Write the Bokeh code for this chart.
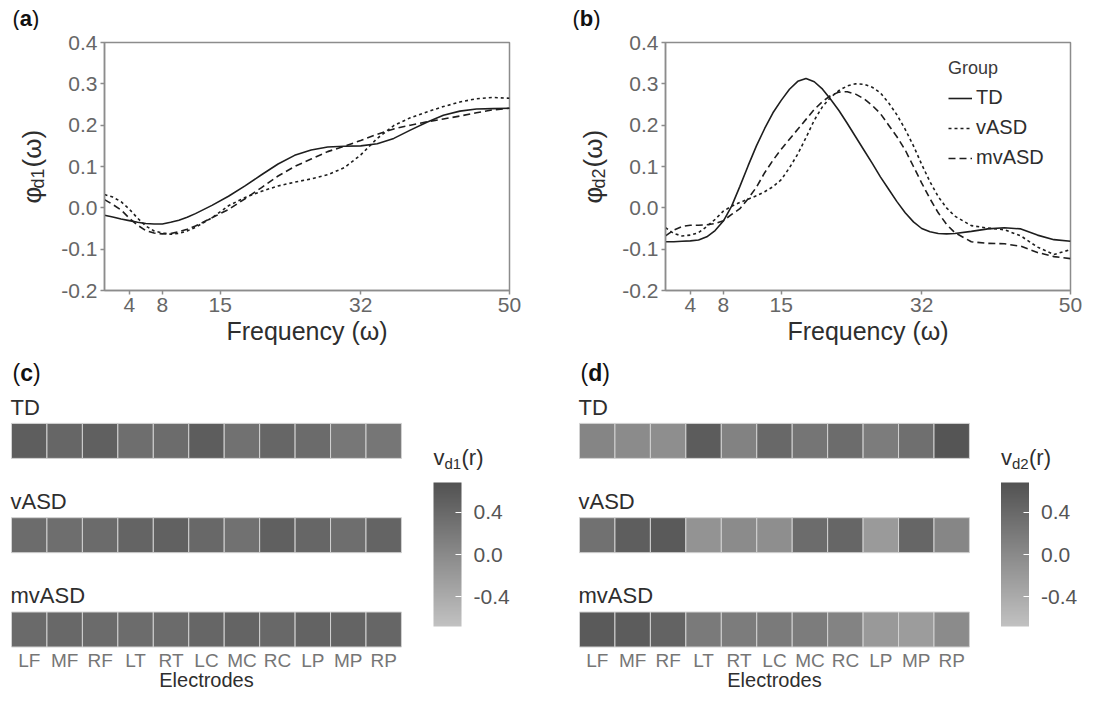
import math
from bokeh.plotting import figure
from bokeh.layouts import column, row
from bokeh.models import (Range1d, FixedTicker, NumeralTickFormatter, Label, Legend,
                          LegendItem, ColorBar, LinearColorMapper, ColumnDataSource)
from bokeh.core.properties import value
from bokeh.embed import file_html
from bokeh.resources import INLINE

# ---------------- data ----------------
freq_a = [1, 2, 3, 4, 5, 6, 7, 8, 9, 10, 11, 12, 14, 16, 18, 20, 22, 24, 26, 28, 30,
          32, 34, 36, 38, 40, 42, 44, 46, 48, 50]
td_a = [-0.018, -0.022, -0.027, -0.031, -0.035, -0.038, -0.039, -0.039, -0.035, -0.030,
        -0.023, -0.014, 0.006, 0.028, 0.053, 0.080, 0.106, 0.127, 0.140, 0.147, 0.149,
        0.150, 0.155, 0.168, 0.188, 0.207, 0.224, 0.234, 0.239, 0.240, 0.241]
vasd_a = [0.032, 0.026, 0.015, -0.003, -0.025, -0.044, -0.056, -0.061, -0.064, -0.062,
          -0.056, -0.047, -0.024, 0.005, 0.025, 0.040, 0.053, 0.062, 0.070, 0.080, 0.097,
          0.128, 0.168, 0.199, 0.218, 0.232, 0.245, 0.256, 0.264, 0.267, 0.265]
mvasd_a = [0.020, 0.008, -0.005, -0.025, -0.042, -0.055, -0.061, -0.063, -0.062, -0.058,
           -0.052, -0.044, -0.024, -0.004, 0.022, 0.049, 0.077, 0.100, 0.118, 0.136, 0.149,
           0.163, 0.178, 0.191, 0.200, 0.208, 0.215, 0.222, 0.230, 0.237, 0.241]

freq_b = [1, 2, 3, 4, 5, 6, 7, 8, 9, 10, 11, 12, 13, 14, 15, 16, 17, 18, 19, 20, 21, 22,
          23, 24, 25, 26, 27, 28, 29, 30, 31, 32, 33, 34, 35, 36, 38, 40, 42, 44, 46, 48, 50]
td_b = [-0.082, -0.082, -0.081, -0.080, -0.078, -0.070, -0.055, -0.032, 0.004, 0.052,
        0.102, 0.150, 0.192, 0.230, 0.260, 0.287, 0.306, 0.313, 0.305, 0.287, 0.262,
        0.235, 0.204, 0.172, 0.140, 0.108, 0.075, 0.045, 0.015, -0.012, -0.034, -0.050,
        -0.058, -0.062, -0.063, -0.062, -0.057, -0.051, -0.048, -0.051, -0.066, -0.077,
        -0.081]
vasd_b = [-0.048, -0.062, -0.068, -0.066, -0.060, -0.045, -0.028, -0.008, 0.004, 0.013,
          0.021, 0.029, 0.039, 0.051, 0.068, 0.097, 0.130, 0.170, 0.212, 0.245, 0.268,
          0.284, 0.295, 0.300, 0.299, 0.292, 0.278, 0.254, 0.225, 0.190, 0.150, 0.105,
          0.063, 0.027, 0.000, -0.020, -0.043, -0.049, -0.053, -0.068, -0.095, -0.113,
          -0.101]
mvasd_b = [-0.068, -0.054, -0.045, -0.042, -0.042, -0.041, -0.038, -0.031, -0.016, -0.002,
           0.022, 0.050, 0.085, 0.115, 0.142, 0.166, 0.190, 0.214, 0.238, 0.257, 0.272,
           0.280, 0.281, 0.275, 0.264, 0.248, 0.228, 0.200, 0.172, 0.140, 0.100, 0.060,
           0.022, -0.012, -0.040, -0.060, -0.082, -0.086, -0.087, -0.093, -0.108, -0.118,
           -0.123]

freq_ticks = [4, 8, 15, 32, 50]
phi_ticks = [-0.2, -0.1, 0.0, 0.1, 0.2, 0.3, 0.4]

groups = ["TD", "vASD", "mvASD"]
electrodes = ["LF", "MF", "RF", "LT", "RT", "LC", "MC", "RC", "LP", "MP", "RP"]
vd1_TD = [0.53, 0.44, 0.50, 0.34, 0.36, 0.55, 0.30, 0.44, 0.38, 0.23, 0.24]
vd1_vASD = [0.36, 0.34, 0.38, 0.46, 0.49, 0.41, 0.30, 0.51, 0.44, 0.34, 0.46]
vd1_mvASD = [0.39, 0.41, 0.38, 0.36, 0.37, 0.44, 0.46, 0.41, 0.47, 0.46, 0.44]
vd2_TD = [0.06, -0.01, -0.05, 0.56, 0.10, 0.41, 0.25, 0.36, 0.17, 0.33, 0.64]
vd2_vASD = [0.30, 0.53, 0.58, -0.11, -0.01, -0.05, 0.36, 0.44, -0.19, 0.44, 0.05]
vd2_mvASD = [0.58, 0.56, 0.47, 0.19, 0.17, 0.19, 0.17, 0.085, -0.18, -0.22, -0.01]
cbar_ticks = [-0.4, 0.0, 0.4]
cbar_low, cbar_high = -0.68, 0.68

# ---------------- styles / layout ----------------
FONT = "Liberation Sans"
DARK = "#2e2e2e"
TICK = "#666666"
FRAME = "#8c8c8c"
LINE = "#1e1e1e"
TOP_H = 30        # strip holding the (a) (b) letters
ROW1_H = 325      # line charts
ROW2_H = 335      # heat maps
B_TOP = 12        # frame top inside row 1
B_BOT = ROW1_H - B_TOP - 248


def lab(p, text, x, y, size, color=DARK, style="normal", angle=0.0,
        align="left", baseline="middle", x_units="screen", y_units="screen"):
    p.add_layout(Label(x=x, y=y, x_units=x_units, y_units=y_units, text=text,
                       text_font=FONT, text_font_size=f"{size}px",
                       text_color=color, text_font_style=style, angle=angle,
                       text_align=align, text_baseline=baseline))


def panel_letter(p, letter, x, y, letter_w, size=23):
    lab(p, "(", x, y, size, color="#111111")
    lab(p, letter, x + 0.333 * size, y, size, color="#111111", style="bold")
    lab(p, ")", x + 0.333 * size + letter_w, y, size, color="#111111")


def blank(width, height, top=0, bottom=0):
    p = figure(width=width, height=height, x_range=Range1d(0, width),
               y_range=Range1d(0, height - top - bottom), output_backend="svg",
               toolbar_location=None, x_axis_location=None, y_axis_location=None,
               min_border_left=0, min_border_right=0, min_border_top=top,
               min_border_bottom=bottom)
    p.grid.visible = False
    p.outline_line_color = None
    return p


def side_panel(width, ylab_x, sub):
    """Strip left of a line chart holding the y-axis title phi_d(omega)."""
    p = blank(width, ROW1_H, B_TOP, B_BOT)
    a = math.pi / 2
    y0 = 123 - 36
    lab(p, "φ", ylab_x, y0, 26, angle=a)
    lab(p, sub, ylab_x + 6, y0 + 15, 18, angle=a)
    lab(p, "(ω)", ylab_x, y0 + 36, 26, angle=a)
    return p


def line_panel(width, left, right, freq, td, vasd, mvasd, legend):
    p = figure(width=width, height=ROW1_H, x_range=Range1d(1, 50),
               y_range=Range1d(-0.2, 0.4),
               output_backend="svg", toolbar_location=None,
               min_border_left=left, min_border_right=right,
               min_border_top=B_TOP, min_border_bottom=B_BOT)
    p.grid.visible = False
    p.outline_line_color = FRAME
    p.outline_line_width = 1.5
    for ax in (p.xaxis[0], p.yaxis[0]):
        ax.axis_line_color = FRAME
        ax.axis_line_width = 1.5
        ax.major_tick_line_color = FRAME
        ax.major_tick_line_width = 1.5
        ax.major_tick_in = 0
        ax.major_tick_out = 4
        ax.minor_tick_line_color = None
        ax.major_label_text_font = FONT
        ax.major_label_text_font_size = "21px"
        ax.major_label_text_color = TICK
        ax.major_label_standoff = 3
    p.xaxis.ticker = FixedTicker(ticks=freq_ticks)
    p.yaxis.ticker = FixedTicker(ticks=phi_ticks)
    p.yaxis.formatter = NumeralTickFormatter(format="0.0")
    p.xaxis.axis_label = "Frequency (ω)"
    p.xaxis.axis_label_text_font = FONT
    p.xaxis.axis_label_text_font_size = "25px"
    p.xaxis.axis_label_text_font_style = "normal"
    p.xaxis.axis_label_text_color = DARK
    p.xaxis.axis_label_standoff = 2

    r1 = p.line(freq, td, line_color=LINE, line_width=1.6)
    r2 = p.line(freq, vasd, line_color=LINE, line_width=1.6, line_dash="3 3")
    r3 = p.line(freq, mvasd, line_color=LINE, line_width=1.6, line_dash="7 4")

    if legend:
        lg = Legend(items=[LegendItem(label="TD", renderers=[r1]),
                           LegendItem(label="vASD", renderers=[r2]),
                           LegendItem(label="mvASD", renderers=[r3])],
                    location=(283, 121), title="Group")
        lg.title_text_font = FONT
        lg.title_text_font_size = "18px"
        lg.title_text_font_style = "normal"
        lg.title_text_color = "#3a3a3a"
        lg.title_standoff = 7
        lg.label_text_font = FONT
        lg.label_text_font_size = "20px"
        lg.label_text_color = DARK
        lg.glyph_width = 24
        lg.glyph_height = 20
        lg.label_height = 20
        lg.label_standoff = 4
        lg.spacing = 7
        lg.padding = 0
        lg.margin = 0
        lg.border_line_alpha = 0
        lg.background_fill_alpha = 0
        p.add_layout(lg)
    return p


palette = ["#%02x%02x%02x" % (g, g, g) for g in
           [int(round(194 - i * 112 / 255)) for i in range(256)]]


def heat_panel(width, tile_left, cbar_left, letter, letter_w, sub, rows):
    cell = 35.45          # px per electrode cell
    pitch = 94.3          # px between rows
    bottom_px = 61        # frame bottom below the last row centre
    x0 = -tile_left / cell
    y0 = -bottom_px / pitch
    p = figure(width=width, height=ROW2_H,
               x_range=Range1d(x0, x0 + width / cell),
               y_range=Range1d(y0, y0 + ROW2_H / pitch),
               output_backend="svg", toolbar_location=None,
               x_axis_location=None, y_axis_location=None,
               min_border_left=0, min_border_right=0, min_border_top=0,
               min_border_bottom=0)
    p.grid.visible = False
    p.outline_line_color = None
    mapper = LinearColorMapper(palette=palette, low=cbar_low, high=cbar_high)
    xs, ys, vs = [], [], []
    for gi, vals in enumerate(rows):
        for ei, v in enumerate(vals):
            xs.append(ei + 0.5)
            ys.append(len(rows) - 1 - gi)
            vs.append(v)
    src = ColumnDataSource(dict(x=xs, y=ys, v=vs))
    p.rect(x="x", y="y", width=1, height=35 / pitch, source=src,
           fill_color={"field": "v", "transform": mapper},
           line_color="#d2d2d2", line_width=1)
    # row (group) labels
    lsrc = ColumnDataSource(dict(x=[-1 / cell] * len(groups),
                                 y=[len(groups) - 1 - i + 33.8 / pitch for i in range(len(groups))],
                                 t=groups))
    p.text(x="x", y="y", text="t", source=lsrc, text_font=value(FONT),
           text_font_size="22px", text_color=DARK, text_align="left",
           text_baseline="middle")
    # electrode labels
    esrc = ColumnDataSource(dict(x=[i + 0.5 for i in range(len(electrodes))],
                                 y=[-31 / pitch] * len(electrodes), t=electrodes))
    p.text(x="x", y="y", text="t", source=esrc, text_font=value(FONT),
           text_font_size="19px", text_color="#767676", text_align="center",
           text_baseline="middle")
    lab(p, "Electrodes", len(electrodes) / 2, -50 / pitch, 20, align="center",
        x_units="data", y_units="data")

    cb = ColorBar(color_mapper=mapper, ticker=FixedTicker(ticks=cbar_ticks),
                  formatter=NumeralTickFormatter(format="0.0"),
                  location=(cbar_left, 64), width=28, height=144, padding=0, margin=0,
                  major_tick_line_color="white", major_tick_line_width=1,
                  major_tick_in=6, major_tick_out=0, minor_tick_line_color=None,
                  bar_line_color=None, border_line_color=None,
                  background_fill_alpha=0, label_standoff=12,
                  major_label_text_font=FONT, major_label_text_font_size="21px",
                  major_label_text_color="#555555")
    p.add_layout(cb)
    lab(p, "v", cbar_left, 233, 22)
    lab(p, sub, cbar_left + 11, 227, 15)
    lab(p, "(r)", cbar_left + 28, 233, 22)
    panel_letter(p, letter, tile_left + 1, 318, letter_w)
    return p


top = blank(1082, TOP_H)
panel_letter(top, "a", 12, 12.5, 12.2, size=22)
panel_letter(top, "b", 572, 12.5, 13.4, size=22)

sa = side_panel(54, 31, "d1")
fa = line_panel(502, 50, 47, freq_a, td_a, vasd_a, mvasd_a, False)
sb = side_panel(56, 36, "d2")
fb = line_panel(470, 53, 12, freq_b, td_b, vasd_b, mvasd_b, True)
fc = heat_panel(556, 11, 433, "c", 12.8, "d1", [vd1_TD, vd1_vASD, vd1_mvASD])
fd = heat_panel(526, 23, 444.5, "d", 14.1, "d2", [vd2_TD, vd2_vASD, vd2_mvASD])

layout = column(top, row(sa, fa, sb, fb), row(fc, fd))
open("out.html", "w").write(file_html(layout, INLINE))
